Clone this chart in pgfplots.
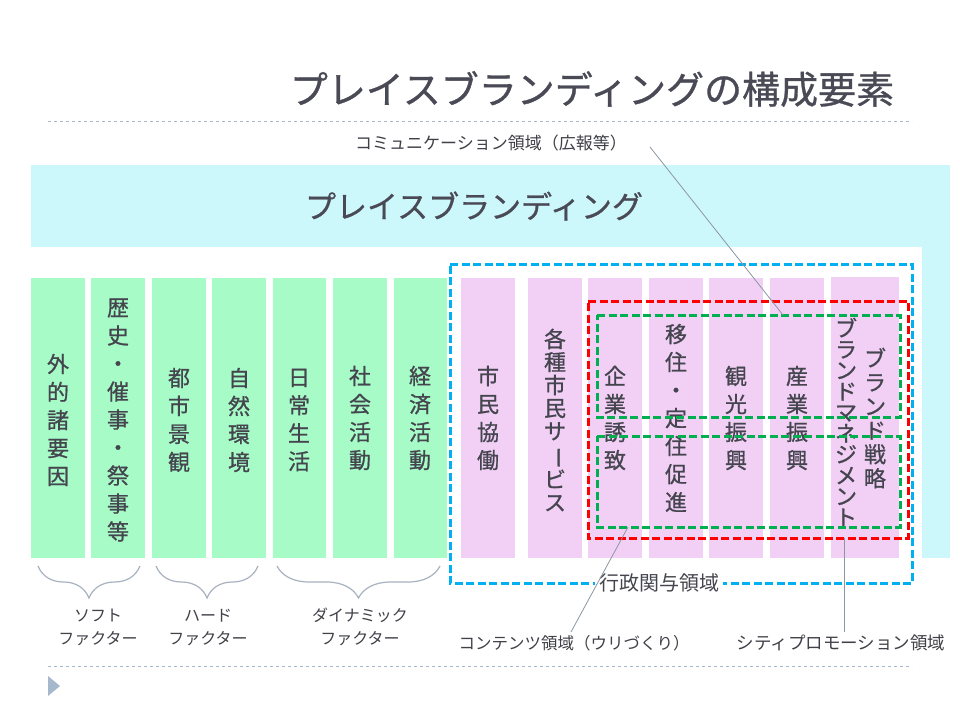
\documentclass[border=0pt]{standalone}
\usepackage{fontspec}
\setmainfont{Noto Sans CJK JP}
\newfontfamily\jpm{Noto Sans CJK JP}[FakeBold=0.8]
\usepackage{graphicx}
\usepackage{pgfplots}
\pgfplotsset{compat=1.18}
\usetikzlibrary{decorations.pathreplacing}
\definecolor{mint}{HTML}{A6FBC6}
\definecolor{pinkc}{HTML}{F2D0F5}
\definecolor{cyanc}{HTML}{CCF8FB}
\definecolor{txt}{HTML}{45454F}
\definecolor{titlec}{HTML}{4A4A56}
\definecolor{sep}{HTML}{A6B8CC}
\definecolor{bluedash}{HTML}{00B0F0}
\definecolor{reddash}{HTML}{FF0000}
\definecolor{greendash}{HTML}{00B050}
\definecolor{bracec}{HTML}{A8B2C0}
\definecolor{small}{HTML}{404048}
\definecolor{leader}{HTML}{8C96A2}
\newcommand{\rect}[5]{\addplot[fill=#1,draw=none,no markers] coordinates {(#2,#3) (#4,#3) (#4,#5) (#2,#5)} -- cycle;}
\newcommand{\dbox}[5]{\addplot[#1,line width=3pt,dash pattern=on 8pt off 3.5pt,no markers] coordinates {(#2,#3) (#4,#3) (#4,#5) (#2,#5)} -- cycle;}
\newcommand{\vt}[4]{\node[txt,font=\jpm\fontsize{22}{#3}\selectfont,align=center,inner sep=0pt] at (#1,#2) {#4};}
\begin{document}
\begin{tikzpicture}
\begin{axis}[scale only axis, width=960pt, height=720pt,
  xmin=0, xmax=960, ymin=0, ymax=720, y dir=reverse,
  hide axis, clip=false]
% background
\rect{white}{0}{0}{960}{720}
% cyan L shape
\rect{cyanc}{31}{165}{950}{558}
\rect{white}{31}{247}{922}{558}
% green columns
\rect{mint}{31}{278}{85}{558}
\rect{mint}{91}{278}{145}{558}
\rect{mint}{152}{278}{206}{558}
\rect{mint}{212}{278}{266}{558}
\rect{mint}{273}{278}{326}{558}
\rect{mint}{333}{278}{387}{558}
\rect{mint}{394}{278}{447}{558}
% pink columns
\rect{pinkc}{461}{278}{515}{558}
\rect{pinkc}{528}{278}{582}{558}
\rect{pinkc}{588}{278}{642}{558}
\rect{pinkc}{649}{278}{703}{558}
\rect{pinkc}{709}{278}{763}{558}
\rect{pinkc}{770}{278}{824}{558}
\rect{pinkc}{831}{277}{899}{558}
% separators
\addplot[sep,line width=1pt,dash pattern=on 3pt off 3pt,no markers] coordinates {(48,121) (912,121)};
\addplot[sep,line width=1pt,dash pattern=on 3pt off 3pt,no markers] coordinates {(48,666) (912,666)};
\addplot[fill=sep,draw=none,no markers] coordinates {(48,676) (60,686) (48,696)} -- cycle;
% titles
\node[titlec,font=\jpm\fontsize{38}{40}\selectfont] at (592,89) {プレイスブランディングの構成要素};
\node[titlec,font=\jpm\fontsize{31}{33}\selectfont] at (474,206) {プレイスブランディング};
% column texts
\vt{58}{420}{28}{外\\的\\諸\\要\\因}
\vt{118}{420}{28}{歴\\史\\・\\催\\事\\・\\祭\\事\\等}
\vt{179}{420}{28}{都\\市\\景\\観}
\vt{239}{420}{28}{自\\然\\環\\境}
\vt{299}{420}{28}{日\\常\\生\\活}
\vt{360}{418}{28}{社\\会\\活\\動}
\vt{420}{418}{28}{経\\済\\活\\動}
\vt{488}{418}{28}{市\\民\\協\\働}
\vt{555}{420}{23}{各\\種\\市\\民\\サ\\\rotatebox[origin=c]{-90}{ー}\\ビ\\ス}
\vt{615}{418}{28}{企\\業\\誘\\致}
\vt{676}{418}{28}{移\\住\\・\\定\\住\\促\\進}
\vt{736}{418}{28}{観\\光\\振\\興}
\vt{797}{418}{28}{産\\業\\振\\興}
\vt{875}{418}{24}{ブ\\ラ\\ン\\ド\\戦\\略}
\vt{846}{422}{21}{ブ\\ラ\\ン\\ド\\マ\\ネ\\ジ\\メ\\ン\\ト}
% dashed boxes
\dbox{bluedash}{450}{264}{912}{583}
\dbox{reddash}{588}{301}{908}{538}
\dbox{greendash}{597}{315}{900}{417}
\dbox{greendash}{597}{436}{900}{527}
\node[txt,fill=white,font=\fontsize{20}{22}\selectfont,inner sep=4pt] at (659,583) {行政関与領域};
% leader lines
\addplot[leader,line width=0.8pt,no markers] coordinates {(650,147) (783,315)};
\addplot[leader,line width=0.8pt,no markers] coordinates {(628,527) (571,632)};
\addplot[leader,line width=0.8pt,no markers] coordinates {(844,538) (844,632)};
% small labels
\node[small,font=\fontsize{17}{19}\selectfont] at (491,143) {コミュニケーション領域（広報等）};
\node[small,font=\fontsize{16.5}{18}\selectfont] at (574,643) {コンテンツ領域（ウリづくり）};
\node[small,font=\fontsize{17.5}{19}\selectfont] at (841,643) {シティプロモーション領域};
% braces
\draw[bracec,line width=1.2pt,decorate,decoration={brace,amplitude=32pt}] (140,566) -- (38,566);
\draw[bracec,line width=1.2pt,decorate,decoration={brace,amplitude=32pt}] (258,566) -- (156,566);
\draw[bracec,line width=1.2pt,decorate,decoration={brace,amplitude=32pt}] (440,566) -- (277,566);
\node[small,font=\fontsize{16}{23}\selectfont,align=center] at (98,627) {ソフト\\ファクター};
\node[small,font=\fontsize{16}{23}\selectfont,align=center] at (208,627) {ハード\\ファクター};
\node[small,font=\fontsize{16}{23}\selectfont,align=center] at (360,627) {ダイナミック\\ファクター};
\end{axis}
\end{tikzpicture}
\end{document}
